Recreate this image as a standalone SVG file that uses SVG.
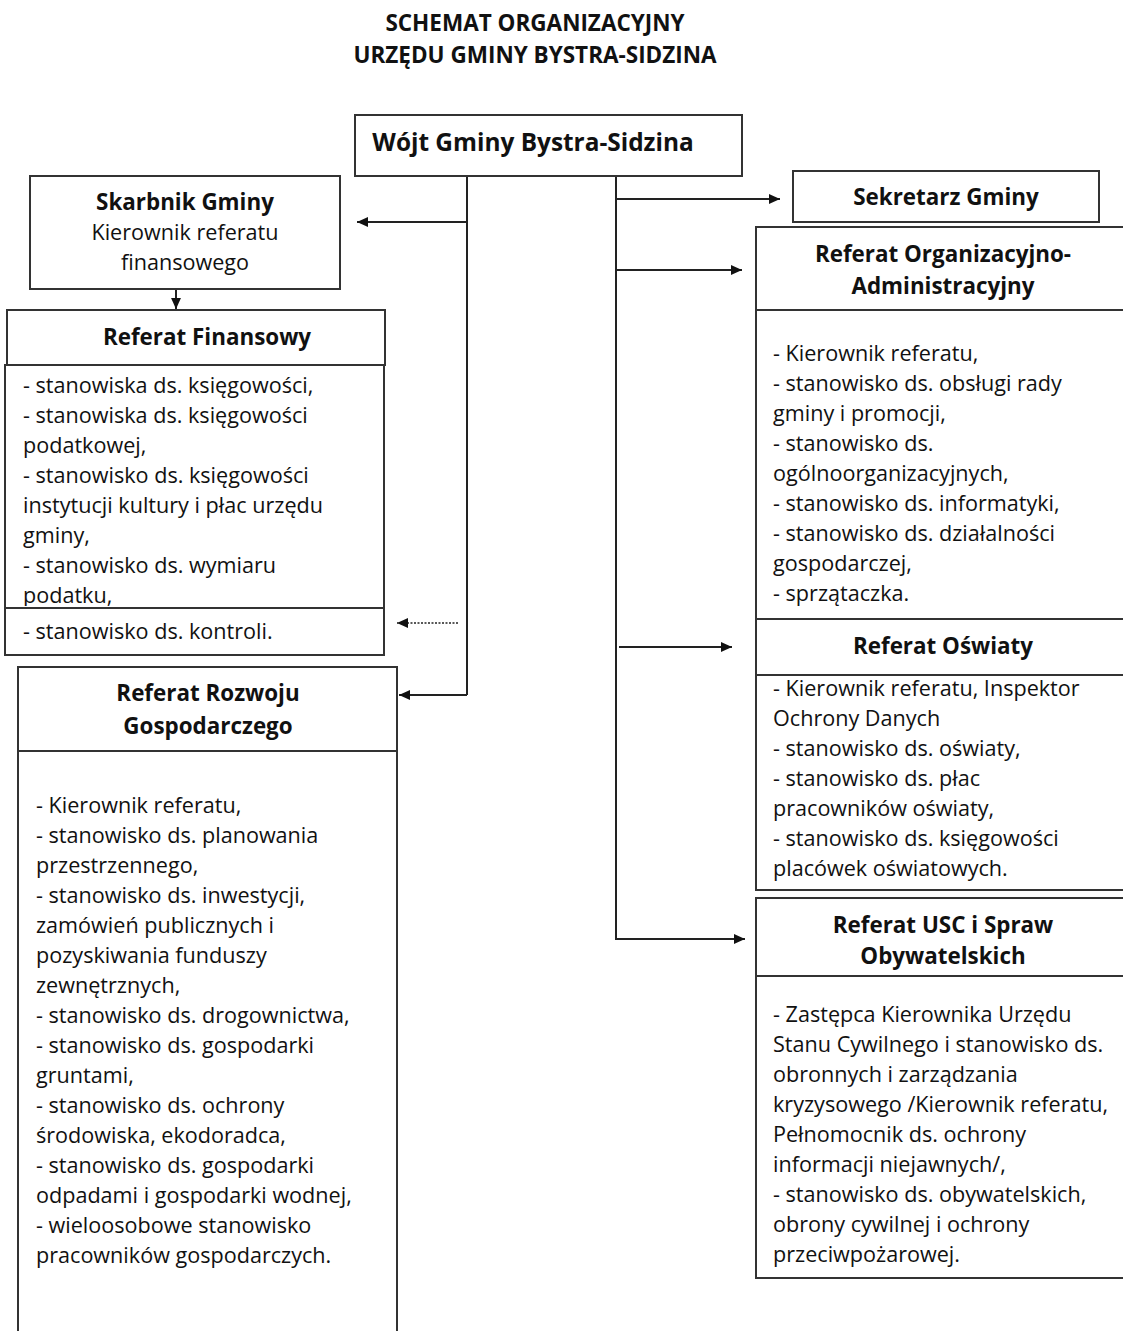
<svg xmlns="http://www.w3.org/2000/svg" width="1123" height="1331" viewBox="0 0 1123 1331">
<defs>
<marker id="ah" viewBox="0 0 10 10" refX="10" refY="5" markerWidth="11" markerHeight="11" markerUnits="userSpaceOnUse" orient="auto">
<path d="M0,0.5 L10,5 L0,9.5 z" fill="#111"/>
</marker>
<style>
.box{fill:#fff;stroke:#333;stroke-width:2}
.ln{stroke:#333;stroke-width:2;fill:none}
.con{stroke:#222;stroke-width:2;fill:none}
.dot{stroke:#222;stroke-width:1.6;fill:none;stroke-dasharray:2 1.5}
text{font-family:"Open Sans","Liberation Sans",sans-serif;fill:#111}
.t{font-size:22.5px;font-weight:bold;text-anchor:middle}
.h{font-size:22.4px;font-weight:bold;text-anchor:middle}
.b{font-size:21.6px}
.c{font-size:21.6px;text-anchor:middle}
</style>
</defs>
<rect width="1123" height="1331" fill="#fff"/>

<g id="title">
<text class="t" x="535" y="31">SCHEMAT ORGANIZACYJNY</text>
<text class="t" x="535" y="63">URZĘDU GMINY BYSTRA-SIDZINA</text>
</g>

<g id="connectors">
<path class="con" d="M467,176 V695"/>
<path class="con" d="M467,222 H357" marker-end="url(#ah)"/>
<path class="con" d="M467,695 H399" marker-end="url(#ah)"/>
<path class="con" d="M176,289 V309" marker-end="url(#ah)"/>
<path class="dot" d="M458,623 H397" marker-end="url(#ah)"/>
<path class="con" d="M616,176 V939"/>
<path class="con" d="M616,199 H780" marker-end="url(#ah)"/>
<path class="con" d="M616,270 H742" marker-end="url(#ah)"/>
<path class="con" d="M619,647 H732" marker-end="url(#ah)"/>
<path class="con" d="M615,939 H745" marker-end="url(#ah)"/>
</g>

<g id="wojt">
<rect class="box" x="355" y="115" width="387" height="61"/>
<text class="h" x="533" y="151" style="font-size:24.4px">Wójt Gminy Bystra-Sidzina</text>
</g>

<g id="skarbnik">
<rect class="box" x="30" y="176" width="310" height="113"/>
<text class="h" x="185" y="210">Skarbnik Gminy</text>
<text class="c" x="185" y="240">Kierownik referatu</text>
<text class="c" x="185" y="270">finansowego</text>
</g>

<g id="ref-finansowy">
<rect class="box" x="5" y="365" width="379" height="290"/>
<text class="b" x="23" y="393">- stanowiska ds. księgowości,</text>
<text class="b" x="23" y="423">- stanowiska ds. księgowości</text>
<text class="b" x="23" y="453">podatkowej,</text>
<text class="b" x="23" y="483">- stanowisko ds. księgowości</text>
<text class="b" x="23" y="513">instytucji kultury i płac urzędu</text>
<text class="b" x="23" y="543">gminy,</text>
<text class="b" x="23" y="573">- stanowisko ds. wymiaru</text>
<text class="b" x="23" y="603">podatku,</text>
<rect x="6" y="606" width="377" height="4" fill="#fff"/>
<path class="ln" d="M5,608 H384"/>
<text class="b" x="23" y="639">- stanowisko ds. kontroli.</text>
<rect class="box" x="7" y="310" width="378" height="55"/>
<text class="h" x="207" y="345">Referat Finansowy</text>
</g>

<g id="ref-rozwoju">
<rect class="box" x="18" y="667" width="379" height="680"/>
<path class="ln" d="M18,751 H397"/>
<text class="h" x="208" y="701">Referat Rozwoju</text>
<text class="h" x="208" y="734">Gospodarczego</text>
<text class="b" x="36" y="813">- Kierownik referatu,</text>
<text class="b" x="36" y="843">- stanowisko ds. planowania</text>
<text class="b" x="36" y="873">przestrzennego,</text>
<text class="b" x="36" y="903">- stanowisko ds. inwestycji,</text>
<text class="b" x="36" y="933">zamówień publicznych i</text>
<text class="b" x="36" y="963">pozyskiwania funduszy</text>
<text class="b" x="36" y="993">zewnętrznych,</text>
<text class="b" x="36" y="1023">- stanowisko ds. drogownictwa,</text>
<text class="b" x="36" y="1053">- stanowisko ds. gospodarki</text>
<text class="b" x="36" y="1083">gruntami,</text>
<text class="b" x="36" y="1113">- stanowisko ds. ochrony</text>
<text class="b" x="36" y="1143">środowiska, ekodoradca,</text>
<text class="b" x="36" y="1173">- stanowisko ds. gospodarki</text>
<text class="b" x="36" y="1203">odpadami i gospodarki wodnej,</text>
<text class="b" x="36" y="1233">- wieloosobowe stanowisko</text>
<text class="b" x="36" y="1263">pracowników gospodarczych.</text>
</g>

<g id="sekretarz">
<rect class="box" x="793" y="171" width="306" height="51"/>
<text class="h" x="946" y="205">Sekretarz Gminy</text>
</g>

<g id="ref-organizacyjny">
<rect class="box" x="756" y="227" width="380" height="392"/>
<path class="ln" d="M756,310 H1136"/>
<text class="h" x="943" y="262">Referat Organizacyjno-</text>
<text class="h" x="943" y="294">Administracyjny</text>
<text class="b" x="773" y="361">- Kierownik referatu,</text>
<text class="b" x="773" y="391">- stanowisko ds. obsługi rady</text>
<text class="b" x="773" y="421">gminy i promocji,</text>
<text class="b" x="773" y="451">- stanowisko ds.</text>
<text class="b" x="773" y="481">ogólnoorganizacyjnych,</text>
<text class="b" x="773" y="511">- stanowisko ds. informatyki,</text>
<text class="b" x="773" y="541">- stanowisko ds. działalności</text>
<text class="b" x="773" y="571">gospodarczej,</text>
<text class="b" x="773" y="601">- sprzątaczka.</text>
</g>

<g id="ref-oswiaty">
<rect class="box" x="756" y="619" width="380" height="271"/>
<path class="ln" d="M756,675 H1136"/>
<text class="h" x="943" y="654">Referat Oświaty</text>
<text class="b" x="773" y="696">- Kierownik referatu, Inspektor</text>
<text class="b" x="773" y="726">Ochrony Danych</text>
<text class="b" x="773" y="756">- stanowisko ds. oświaty,</text>
<text class="b" x="773" y="786">- stanowisko ds. płac</text>
<text class="b" x="773" y="816">pracowników oświaty,</text>
<text class="b" x="773" y="846">- stanowisko ds. księgowości</text>
<text class="b" x="773" y="876">placówek oświatowych.</text>
</g>

<g id="ref-usc">
<rect class="box" x="756" y="898" width="380" height="380"/>
<path class="ln" d="M756,976 H1136"/>
<text class="h" x="943" y="933">Referat USC i Spraw</text>
<text class="h" x="943" y="964">Obywatelskich</text>
<text class="b" x="773" y="1022">- Zastępca Kierownika Urzędu</text>
<text class="b" x="773" y="1052">Stanu Cywilnego i stanowisko ds.</text>
<text class="b" x="773" y="1082">obronnych i zarządzania</text>
<text class="b" x="773" y="1112">kryzysowego /Kierownik referatu,</text>
<text class="b" x="773" y="1142">Pełnomocnik ds. ochrony</text>
<text class="b" x="773" y="1172">informacji niejawnych/,</text>
<text class="b" x="773" y="1202">- stanowisko ds. obywatelskich,</text>
<text class="b" x="773" y="1232">obrony cywilnej i ochrony</text>
<text class="b" x="773" y="1262">przeciwpożarowej.</text>
</g>
</svg>
